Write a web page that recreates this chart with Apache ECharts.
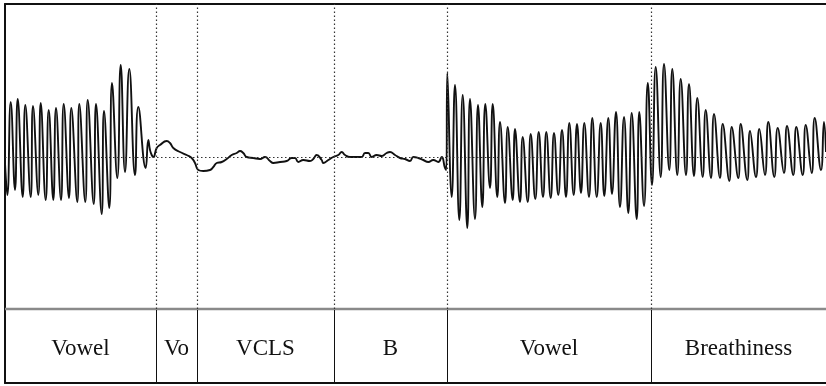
<!DOCTYPE html>
<html>
<head>
<meta charset="utf-8">
<script src="https://cdn.jsdelivr.net/npm/echarts@6/dist/echarts.min.js"></script>
<style>
html,body{margin:0;padding:0;background:#fff;}
#chart{width:826px;height:386px;}
</style>
</head>
<body>
<div id="chart"></div>
<script>
// Segment boundaries (time axis units) and labels
const segmentBounds = [5, 156, 197, 334, 447, 651, 826];
const segmentLabels = ['Vowel', 'Vo', 'VCLS', 'B', 'Vowel', 'Breathiness'];

// Waveform: peaks, troughs and intermediate points
const waveTime = [
  5, 7.3, 10.7, 15, 17.7, 22.7, 25.3, 30.7, 33, 38.3, 40.7, 45.7, 48.7, 53.3, 56, 61, 63.7, 69, 71.3, 77.3,
  79.3, 85.3, 87.7, 93.7, 96, 101.7, 104, 109.3, 112, 117.3, 120.7, 125, 129.3, 135, 138.3, 145.7, 148.3, 150, 151.7, 153.3,
  156.7, 160, 166.7, 170, 173.3, 180, 186.7, 191.7, 195, 198.3, 203.3, 210, 213.3, 216.7, 221.7, 226.7, 231.7, 236.7, 240, 243.3,
  246.7, 253.3, 260, 265, 270, 273.3, 280, 286.7, 291.7, 295, 298.3, 303.3, 310, 313.3, 316.7, 321.7, 323.3, 328.3, 333.3, 338.3,
  341.7, 345, 350, 356.7, 361.7, 365, 368.3, 371.7, 376.7, 381.7, 386.7, 390, 395, 400, 405, 410, 413.3, 418.3, 423.3, 428.3,
  433.3, 438.3, 441.7, 445, 446.3,
  447.3, 451.7, 455, 459.3, 462.7, 467.3, 470, 475, 478, 482.3, 485.3, 490, 492.7, 497.3, 500, 505, 507.7, 512.7, 515, 520,
  522.7, 527.7, 530.7, 535.3, 538.7, 543, 546.3, 550.7, 554, 558.3, 562, 566, 569.3, 573.7, 577, 581, 584.3, 589, 592.3, 596.7,
  600.7, 604.3, 608.3, 612, 616, 620, 624, 628.3, 631.7, 636.7, 639.3, 644, 647.8,
  652, 655.7, 660.7, 664, 669.3, 672.3, 677.3, 680.7, 686, 689, 694, 697.3, 702.7, 705.7, 711, 714, 720, 722.7, 729.3, 731.7,
  738.3, 740.7, 747.3, 750, 756, 759.3, 765, 768.3, 774.3, 777.7, 784, 787, 793.3, 796.3, 802.7, 805.7, 811.7, 814.7, 821, 824, 826
];
const waveAmp = [
  -6, -38, 55, -33, 58, -40, 52, -40, 51, -38, 54, -43, 47, -43, 49, -43, 53, -41, 49, -45,
  53, -45, 57, -47, 53, -57, 46, -51, 74, -21, 92, -15, 88, -18, 50, -11, 17, 7, 2, 0,
  9, 12, 16, 14, 9, 5, 2, -1, -6, -13, -14, -13, -10, -6, -5, -2, 2, 4, 6, 4,
  0, -1, -2, 0, -4, -6, -5, -4, -1, -1, -5, -3, -4, -2, 2, -3, -6, -3, 0, 2,
  5, 2, 0, 0, 0, 4, 4, 0, 2, 1, 4, 5, 2, -1, -2, -4, 0, -1, -3, -5,
  -3, -5, 0, -11, -13,
  84, -40, 72, -63, 62, -71, 58, -62, 52, -50, 53, -31, 53, -40, 35, -46, 30, -43, 28, -45,
  20, -45, 23, -42, 25, -40, 25, -41, 24, -38, 27, -40, 34, -38, 33, -36, 34, -40, 39, -40,
  34, -39, 39, -37, 45, -50, 40, -56, 44, -62, 45, -49, 74,
  -28, 90, -20, 93, -13, 88, -18, 78, -18, 73, -19, 59, -20, 47, -21, 43, -21, 33, -24, 30,
  -21, 33, -23, 26, -20, 28, -18, 35, -20, 29, -16, 31, -18, 30, -18, 32, -16, 39, -13, 35, 5
];

const waveData = waveTime.map((t, i) => [t, waveAmp[i]]);
const segData = segmentLabels.map((name, i) => [segmentBounds[i], segmentBounds[i + 1], name]);
const innerBounds = segmentBounds.slice(1, -1);

const chart = echarts.init(document.getElementById('chart'), null, {renderer: 'canvas'});
const xMin = segmentBounds[0], xMax = segmentBounds[segmentBounds.length - 1];

chart.setOption({
  animation: false,
  backgroundColor: '#fff',
  grid: [
    {left: 5, right: 0, top: 4, height: 305},
    {left: 5, right: 0, top: 309, height: 74}
  ],
  xAxis: [
    {type: 'value', gridIndex: 0, min: xMin, max: xMax, position: 'top',
     axisLine: {show: true, onZero: false, lineStyle: {color: '#111', width: 2}},
     axisTick: {show: false}, axisLabel: {show: false}, splitLine: {show: false}},
    {type: 'value', gridIndex: 1, min: xMin, max: xMax, position: 'bottom',
     axisLine: {show: true, onZero: false, lineStyle: {color: '#111', width: 2}},
     axisTick: {show: false}, axisLabel: {show: false}, splitLine: {show: false}}
  ],
  yAxis: [
    {type: 'value', gridIndex: 0, min: -152, max: 153,
     axisLine: {show: true, onZero: false, lineStyle: {color: '#111', width: 2}},
     axisTick: {show: false}, axisLabel: {show: false}, splitLine: {show: false}},
    {type: 'value', gridIndex: 1, min: 0, max: 1,
     axisLine: {show: true, onZero: false, lineStyle: {color: '#111', width: 2}},
     axisTick: {show: false}, axisLabel: {show: false}, splitLine: {show: false}}
  ],
  series: [
    {
      type: 'line', xAxisIndex: 0, yAxisIndex: 0,
      data: waveData, smooth: 0.5, showSymbol: false,
      lineStyle: {color: '#111', width: 1.9},
      z: 3,
      markLine: {
        silent: true, symbol: ['none', 'none'], label: {show: false},
        lineStyle: {color: '#333', width: 1.2, type: [1.5, 2.5]},
        data: innerBounds.map(b => ({xAxis: b})).concat([{yAxis: 0}])
      }
    },
    {
      type: 'custom', xAxisIndex: 1, yAxisIndex: 1,
      data: segData,
      renderItem: function (params, api) {
        const p1 = api.coord([api.value(0), 1]);
        const p2 = api.coord([api.value(1), 0]);
        const xl = Math.round(p1[0]) + 0.5;
        const children = [
          {type: 'line', shape: {x1: p1[0], y1: p1[1], x2: p2[0], y2: p1[1]},
           style: {stroke: '#8a8a8a', lineWidth: 2.5}},
          {type: 'text', style: {text: segData[params.dataIndex][2], x: (p1[0] + p2[0]) / 2, y: (p1[1] + p2[1]) / 2 + 3,
            textAlign: 'center', textVerticalAlign: 'middle', fill: '#111',
            font: '23px "Liberation Serif", "Times New Roman", serif'}}
        ];
        if (params.dataIndex > 0) {
          children.push({type: 'line', shape: {x1: xl, y1: p1[1] + 1, x2: xl, y2: p2[1]},
            style: {stroke: '#111', lineWidth: 1}});
        }
        return {type: 'group', children: children};
      }
    }
  ]
});
</script>
</body>
</html>
